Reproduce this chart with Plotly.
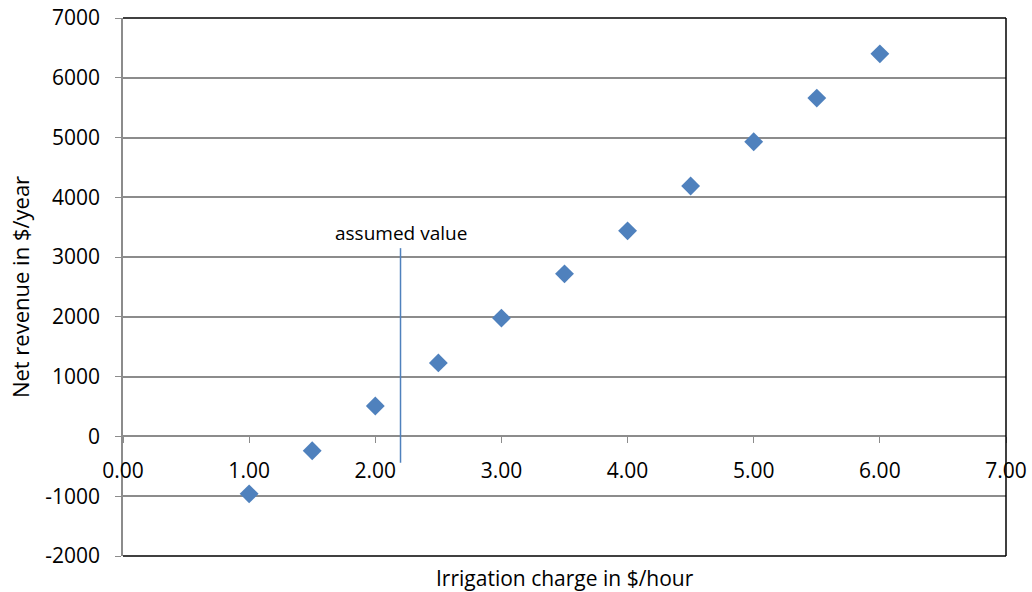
import plotly.graph_objects as go

charge = [1.0, 1.5, 2.0, 2.5, 3.0, 3.5, 4.0, 4.5, 5.0, 5.5, 6.0]
revenue = [-960, -240, 510, 1230, 1980, 2720, 3440, 4190, 4930, 5660, 6400]
x_ticks = [0, 1, 2, 3, 4, 5, 6, 7]
x_tick_text = ["0.00", "1.00", "2.00", "3.00", "4.00", "5.00", "6.00", "7.00"]
y_ticks = [-2000, -1000, 0, 1000, 2000, 3000, 4000, 5000, 6000, 7000]
y_tick_text = ["-2000", "-1000", "0", "1000", "2000", "3000", "4000", "5000", "6000", "7000"]
assumed_x = 2.2
assumed_top = 3150
assumed_bottom = -440
assumed_label = "assumed value"
x_title = "Irrigation charge in $/hour"
y_title = "Net revenue in $/year"

y_min, y_max = -2000, 7000
x_min, x_max = 0, 7

FONT = "'Open Sans', sans-serif"
BLUE = "#4F81BD"
GRID = "#8C8C8C"

fig = go.Figure()
fig.add_trace(go.Scatter(
    x=charge, y=revenue, mode="markers",
    marker=dict(symbol="diamond", size=14.5, color=BLUE),
    showlegend=False, xaxis="x2", yaxis="y",
))

fig.add_shape(type="line", xref="x2", yref="y",
              x0=assumed_x, x1=assumed_x, y0=assumed_bottom, y1=assumed_top,
              line=dict(color=BLUE, width=1.5))
fig.add_annotation(x=assumed_x, y=assumed_top, xref="x2", yref="y",
                   text=assumed_label, showarrow=False, yanchor="bottom",
                   yshift=0, font=dict(family=FONT, size=19, color="black"))

# x-axis title below the plot area
fig.add_annotation(x=0.5, y=0, xref="paper", yref="paper", text=x_title,
                   showarrow=False, yanchor="top", yshift=-6,
                   font=dict(family=FONT, size=21, color="black"))

# frame: top, right, bottom dark
for x0, y0, x1, y1 in [(0, 1, 1, 1), (1, 0, 1, 1), (0, 0, 1, 0)]:
    fig.add_shape(type="line", xref="paper", yref="paper", x0=x0, y0=y0, x1=x1, y1=y1,
                  line=dict(color="black", width=1.5), layer="above")

zero_pos = (0 - y_min) / (y_max - y_min)

fig.update_layout(
    width=1032, height=592,
    margin=dict(l=123, r=26, t=18, b=36, autoexpand=False),
    plot_bgcolor="white", paper_bgcolor="white",
    font=dict(family=FONT, size=21, color="black"),
    xaxis=dict(range=[x_min, x_max], showticklabels=False, showgrid=False,
               zeroline=False, showline=False, ticks="", automargin=False),
    xaxis2=dict(range=[x_min, x_max], overlaying="x", anchor="free", position=zero_pos,
                tickvals=x_ticks, ticktext=x_tick_text, ticks="outside", ticklen=6,
                tickcolor=GRID, tickwidth=1, showgrid=False, zeroline=False,
                showline=False, side="bottom", automargin=False,
                ticklabelstandoff=9, ticklabeloverflow="allow",
                tickfont=dict(family=FONT, size=21)),
    yaxis=dict(range=[y_min, y_max], tickvals=y_ticks, ticktext=y_tick_text,
               ticks="outside", ticklen=6, automargin=False, ticklabelstandoff=11,
               ticklabeloverflow="allow",
               tickcolor=GRID, showgrid=True, gridcolor=GRID, gridwidth=1.5,
               zeroline=True, zerolinecolor=GRID, zerolinewidth=1.5,
               showline=True, linecolor=GRID, linewidth=1.5,
               title=dict(text=y_title, standoff=10,
                          font=dict(family=FONT, size=22)),
               tickfont=dict(family=FONT, size=21)),
)

fig.write_html(
    "out.html",
    config={"displayModeBar": False},
    post_script="document.body.style.margin='0';document.body.style.overflow='hidden';",
)
